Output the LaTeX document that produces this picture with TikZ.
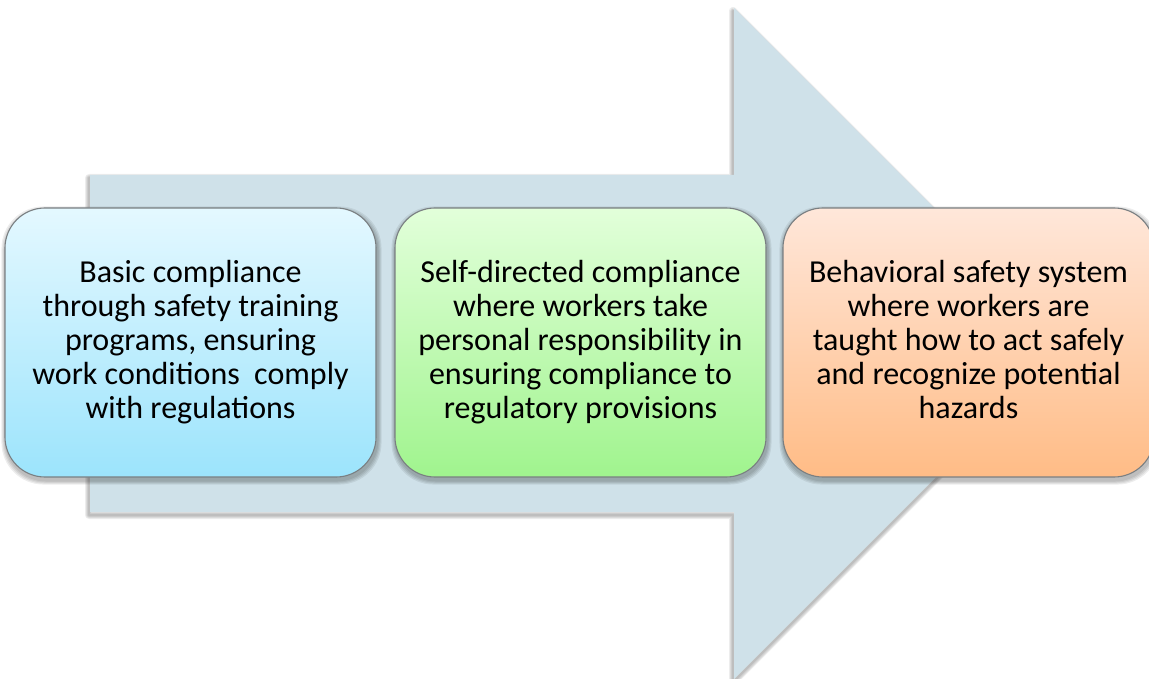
\documentclass[tikz,border=0pt]{standalone}
\usepackage{fontspec}
\setmainfont{Carlito}
\usetikzlibrary{calc,backgrounds}

\definecolor{arrowfill}{HTML}{CFE1E9}
\definecolor{boxline}{HTML}{7A7F82}
\definecolor{blueTop}{HTML}{E4F8FF}
\definecolor{blueBot}{HTML}{9CE4FC}
\definecolor{greenTop}{HTML}{E2FFDA}
\definecolor{greenBot}{HTML}{A0F48E}
\definecolor{orangeTop}{HTML}{FFE7DA}
\definecolor{orangeBot}{HTML}{FFBC86}

\tikzset{
  stagebox/.style={draw=boxline, line width=1.1pt, rounded corners=40pt,
    minimum width=371pt, minimum height=269pt, inner sep=0pt,
    align=center, font=\fontsize{32}{34}\selectfont},
  shadowlayer/.style={black, opacity=0.07},
}

% outline of the big background arrow, in pixel-like units
\newcommand{\bigarrowpath}{(90,175) -- (734,175) -- (734,8) -- (1069.5,343.5)
  -- (734,679) -- (734,512) -- (90,512) -- cycle}

\begin{document}
\begin{tikzpicture}[x=1pt,y=-1pt]
\useasboundingbox (0,0) rectangle (1149,679);

% the three stages
\node[stagebox, top color=blueTop, bottom color=blueBot] (s1) at (190.5,342.5)
  {Basic compliance\\through safety training\\programs, ensuring\\work conditions~ comply\\with regulations};
\node[stagebox, top color=greenTop, bottom color=greenBot] (s2) at (580.5,342.5)
  {Self-directed compliance\\where workers take\\personal responsibility in\\ensuring compliance to\\regulatory provisions};
\node[stagebox, top color=orangeTop, bottom color=orangeBot] (s3) at (968.5,342.5)
  {Behavioral safety system\\where workers are\\taught how to act safely\\and recognize potential\\hazards\vphantom{g}};

\begin{scope}[on background layer]
  % soft shadow of the arrow
  \foreach \w in {8,6,4,2} {
    \draw[shadowlayer, line width=\w pt, line join=round, shift={(-1,3)}] \bigarrowpath;
  }
  \fill[arrowfill] \bigarrowpath;
  % soft shadows of the stage boxes
  \foreach \n in {s1,s2,s3} {
    \foreach \b in {4,3,2,1} {
      \fill[shadowlayer, rounded corners=42pt]
        ($(\n.south west)+(1-\b,3+\b)$) rectangle ($(\n.north east)+(1+\b,3-\b)$);
    }
  }
\end{scope}
\end{tikzpicture}
\end{document}
